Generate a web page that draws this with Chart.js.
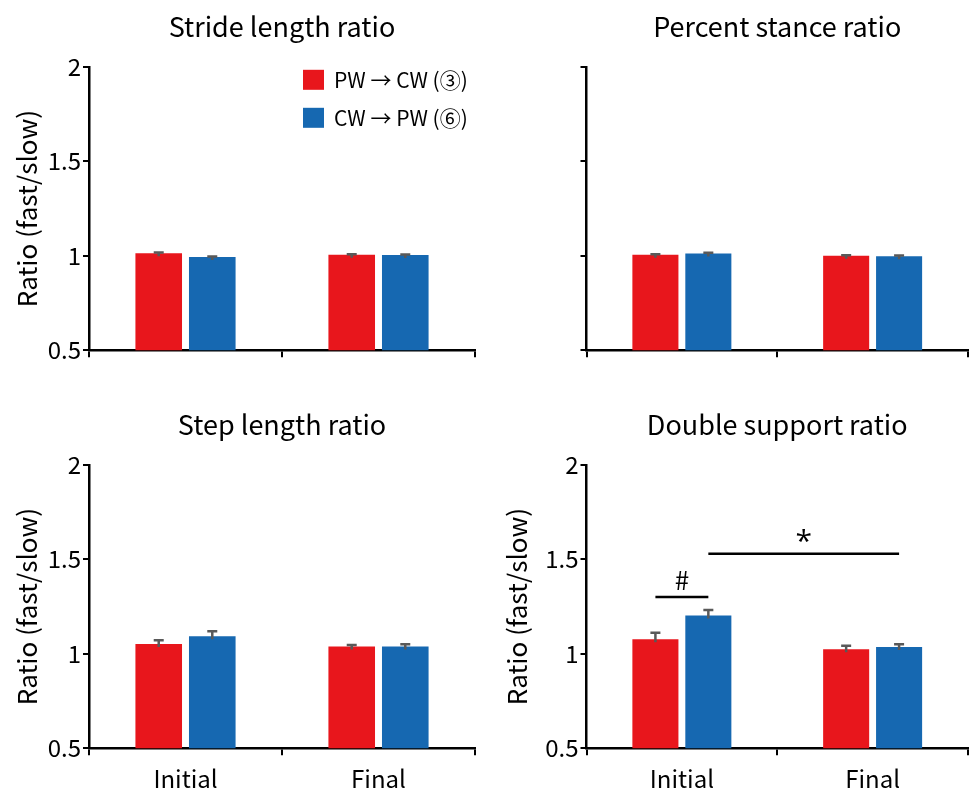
<!DOCTYPE html>
<html lang="en">
<head>
<meta charset="UTF-8">
<title>Gait ratios</title>
<style>
    body {
        margin: 0;
        background: #fff;
        font-family: "Noto Sans CJK JP", sans-serif;
    }
    #wrap {
        position: relative;
        width: 975px;
        height: 792px;
    }
    .panel {
        position: absolute;
    }
</style>
</head>
<body>
<div id="wrap">
    <div class="panel" style="left:0;top:0;width:490px;height:398px"><canvas id="stride"></canvas></div>
    <div class="panel" style="left:490px;top:0;width:485px;height:398px"><canvas id="stance"></canvas></div>
    <div class="panel" style="left:0;top:398px;width:490px;height:394px"><canvas id="step"></canvas></div>
    <div class="panel" style="left:490px;top:398px;width:485px;height:394px"><canvas id="double"></canvas></div>
</div>
<script src="https://cdn.jsdelivr.net/npm/chart.js"></script>
<script>
    const phases = ['Initial', 'Final'];
    const seriesNames = ['PW \u2192 CW (\u2462)', 'CW \u2192 PW (\u2465)'];
    const seriesColors = ['#e8161c', '#1668b1'];

    const strideRed = [1.014, 1.005];
    const strideRedErr = [0.004, 0.003];
    const strideBlue = [0.993, 1.004];
    const strideBlueErr = [0.003, 0.003];

    const stanceRed = [1.005, 1.0];
    const stanceRedErr = [0.003, 0.003];
    const stanceBlue = [1.012, 0.997];
    const stanceBlueErr = [0.004, 0.004];

    const stepRed = [1.052, 1.038];
    const stepRedErr = [0.02, 0.008];
    const stepBlue = [1.093, 1.038];
    const stepBlueErr = [0.026, 0.012];

    const doubleRed = [1.077, 1.024];
    const doubleRedErr = [0.035, 0.019];
    const doubleBlue = [1.202, 1.036];
    const doubleBlueErr = [0.03, 0.015];

    // brackets: [category, series] from -> to, height in ratio units
    const doubleSig = [
        { from: [0, 0], to: [0, 1], y: 1.30, text: '#' },
        { from: [0, 1], to: [1, 1], y: 1.53, text: '*' }
    ];

    const FONT = '"Noto Sans CJK JP", sans-serif';
    Chart.defaults.font.family = FONT;
    Chart.defaults.color = '#000';

    const errorBars = {
        id: 'errorBars',
        afterDatasetsDraw(chart) {
            const ctx = chart.ctx;
            const y = chart.scales.y;
            ctx.save();
            ctx.strokeStyle = '#595959';
            ctx.lineWidth = 2.5;
            chart.data.datasets.forEach((ds, di) => {
                chart.getDatasetMeta(di).data.forEach((bar, i) => {
                    const top = y.getPixelForValue(ds.data[i] + ds.errors[i]);
                    ctx.beginPath();
                    ctx.moveTo(bar.x, bar.y + 3);
                    ctx.lineTo(bar.x, top);
                    ctx.moveTo(bar.x - 5, top);
                    ctx.lineTo(bar.x + 5, top);
                    ctx.stroke();
                });
            });
            ctx.restore();

            const sig = chart.options.plugins.errorBars.sig || [];
            ctx.save();
            ctx.strokeStyle = '#000';
            ctx.fillStyle = '#000';
            ctx.lineWidth = 2.5;
            ctx.textAlign = 'center';
            ctx.textBaseline = 'alphabetic';
            sig.forEach(s => {
                const x1 = chart.getDatasetMeta(s.from[1]).data[s.from[0]].x;
                const x2 = chart.getDatasetMeta(s.to[1]).data[s.to[0]].x;
                const py = y.getPixelForValue(s.y);
                ctx.beginPath();
                ctx.moveTo(x1, py);
                ctx.lineTo(x2, py);
                ctx.stroke();
                if (s.text === '*') {
                    ctx.font = '30px "Open Sans", sans-serif';
                    ctx.fillText(s.text, (x1 + x2) / 2, py - 3);
                } else {
                    ctx.font = '26px ' + FONT;
                    ctx.fillText(s.text, (x1 + x2) / 2, py - 7);
                }
            });
            ctx.restore();
        },
        afterDraw(chart) {
            if (!chart.options.plugins.errorBars.legend) return;
            const ctx = chart.ctx;
            const area = chart.chartArea;
            ctx.save();
            ctx.font = '21px ' + FONT;
            ctx.textBaseline = 'middle';
            ctx.textAlign = 'left';
            chart.data.datasets.forEach((ds, i) => {
                const cy = area.top + 13 + i * 38;
                ctx.fillStyle = ds.backgroundColor;
                ctx.fillRect(area.left + 214, cy - 10, 21, 20);
                ctx.fillStyle = '#000';
                ctx.fillText(ds.label, area.left + 245, cy);
            });
            ctx.restore();
        }
    };

    function makePanel(id, title, red, redErr, blue, blueErr, o) {
        return new Chart(document.getElementById(id), {
            type: 'bar',
            data: {
                labels: phases,
                datasets: [
                    { label: seriesNames[0], data: red, errors: redErr, backgroundColor: seriesColors[0] },
                    { label: seriesNames[1], data: blue, errors: blueErr, backgroundColor: seriesColors[1] }
                ]
            },
            options: {
                responsive: true,
                maintainAspectRatio: false,
                animation: false,
                categoryPercentage: 0.555,
                barPercentage: 0.87,
                layout: { padding: { left: 0, right: o.right, top: 0, bottom: 0 } },
                plugins: {
                    legend: { display: false },
                    tooltip: { enabled: false },
                    title: {
                        display: true,
                        fullSize: false,
                        text: title,
                        color: '#000',
                        font: { size: 27, weight: 'normal', lineHeight: 1.2 },
                        padding: { top: 11, bottom: 23.4 }
                    },
                    errorBars: { sig: o.sig, legend: o.legend }
                },
                scales: {
                    x: {
                        ticks: { display: o.xLabels, color: '#000', font: { size: 24, lineHeight: 1.2 }, padding: 9 },
                        grid: { drawOnChartArea: false, color: '#000', lineWidth: 2, tickLength: 7, offset: true },
                        border: { color: '#000', width: 2.5 },
                        afterFit: s => { s.height = o.bottom; }
                    },
                    y: {
                        min: 0.5,
                        max: 2,
                        ticks: {
                            stepSize: 0.5,
                            display: o.yLabels,
                            color: '#000',
                            font: { size: 24, lineHeight: 1.2 },
                            padding: 2,
                            callback: v => String(v)
                        },
                        grid: { drawOnChartArea: false, color: '#000', lineWidth: 2, tickLength: 6 },
                        border: { color: '#000', width: 2.5 },
                        title: {
                            display: o.yLabels,
                            text: 'Ratio (fast/slow)',
                            color: '#000',
                            font: { size: 26, lineHeight: 1.2 },
                            padding: { top: 12, bottom: 0 }
                        },
                        afterFit: s => { s.width = o.left; }
                    }
                }
            },
            plugins: [errorBars]
        });
    }

    makePanel('stride', 'Stride length ratio', strideRed, strideRedErr, strideBlue, strideBlueErr,
        { left: 89, right: 15, bottom: 47.7, xLabels: false, yLabels: true, legend: true, sig: [] });
    makePanel('stance', 'Percent stance ratio', stanceRed, stanceRedErr, stanceBlue, stanceBlueErr,
        { left: 96.5, right: 7, bottom: 47.7, xLabels: false, yLabels: false, legend: false, sig: [] });
    makePanel('step', 'Step length ratio', stepRed, stepRedErr, stepBlue, stepBlueErr,
        { left: 89, right: 15, bottom: 43.7, xLabels: true, yLabels: true, legend: false, sig: [] });
    makePanel('double', 'Double support ratio', doubleRed, doubleRedErr, doubleBlue, doubleBlueErr,
        { left: 96.5, right: 7, bottom: 43.7, xLabels: true, yLabels: true, legend: false, sig: doubleSig });
</script>
</body>
</html>
